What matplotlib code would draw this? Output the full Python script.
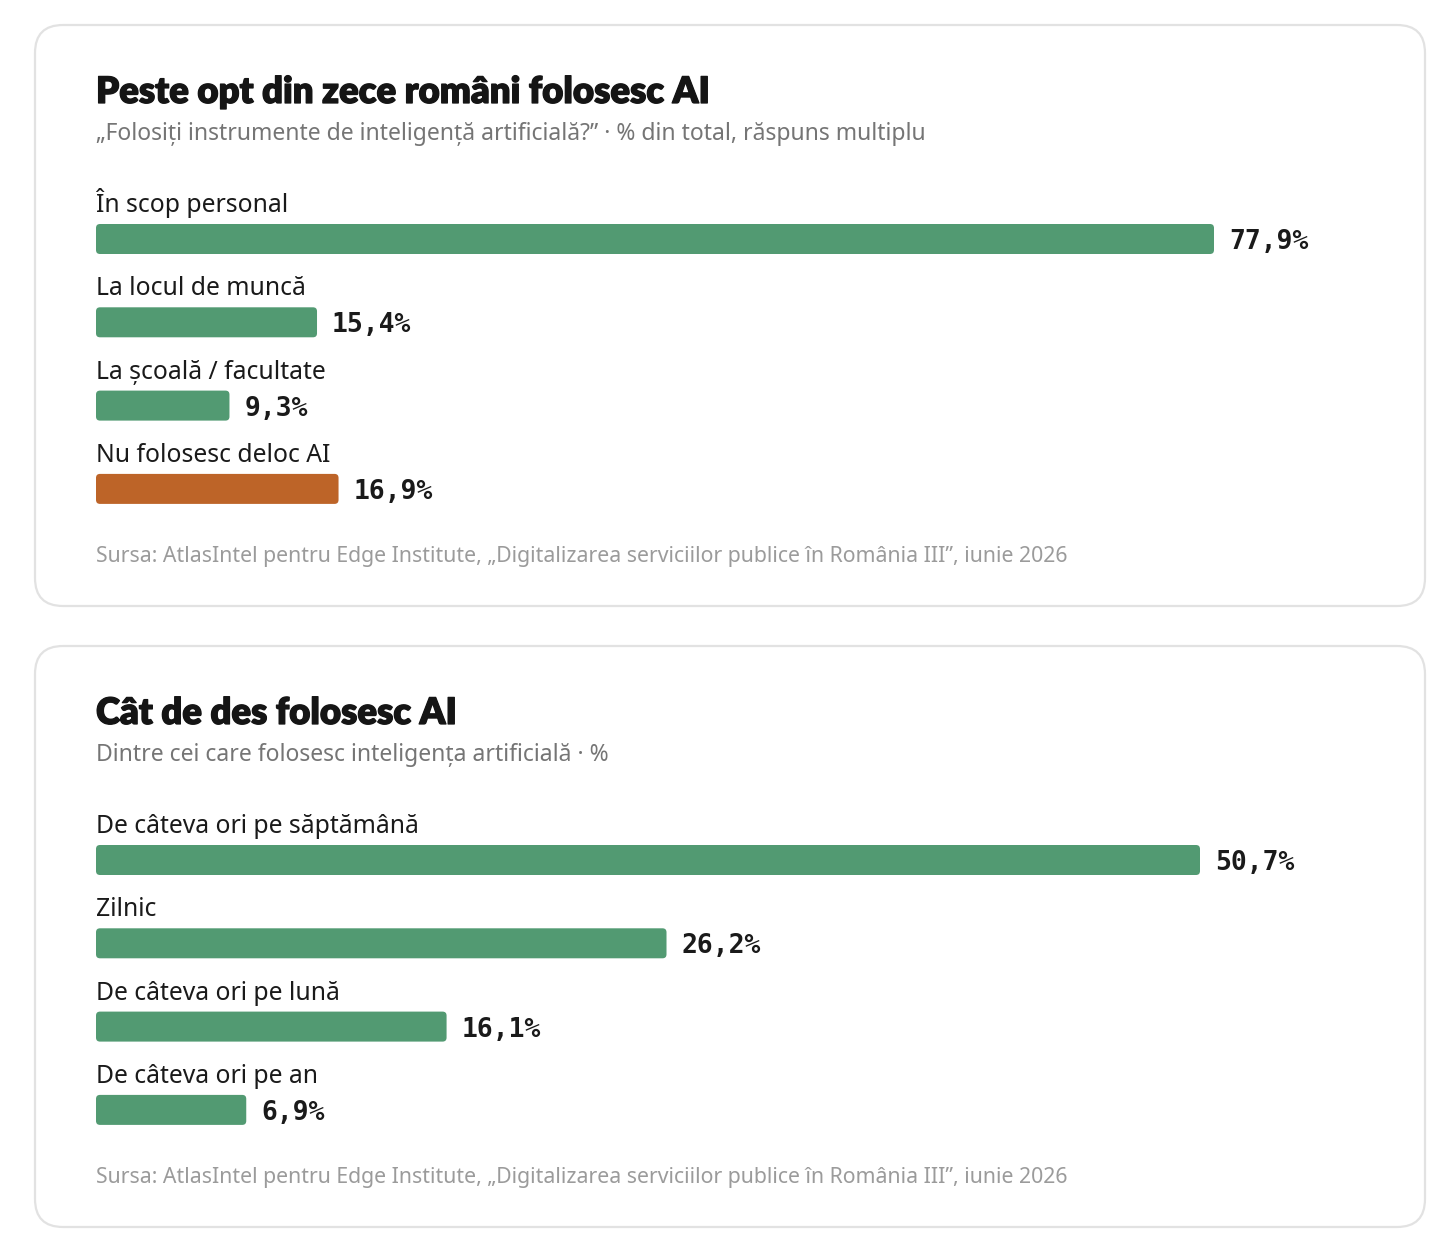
import matplotlib.pyplot as plt
import matplotlib.patheffects as pe
from matplotlib.patches import FancyBboxPatch

# data
use_labels = ['În scop personal', 'La locul de muncă', 'La școală / facultate', 'Nu folosesc deloc AI']
use_values = [77.9, 15.4, 9.3, 16.9]
use_colors = ['#529a72', '#529a72', '#529a72', '#bd6428']

freq_labels = ['De câteva ori pe săptămână', 'Zilnic', 'De câteva ori pe lună', 'De câteva ori pe an']
freq_values = [50.7, 26.2, 16.1, 6.9]
freq_colors = ['#529a72'] * 4

titles = ['Peste opt din zece români folosesc AI', 'Cât de des folosesc AI']
subtitles = ['„Folosiți instrumente de inteligență artificială?” · % din total, răspuns multiplu',
             'Dintre cei care folosesc inteligența artificială · %']
source = 'Sursa: AtlasIntel pentru Edge Institute, „Digitalizarea serviciilor publice în România III”, iunie 2026'

W, H = 1456, 1243
fig = plt.figure(figsize=(W / 100, H / 100), dpi=100)
fig.patch.set_facecolor('white')

bg = fig.add_axes([0, 0, 1, 1])
bg.set_xlim(0, W)
bg.set_ylim(H, 0)
bg.axis('off')

LABEL_FONT = 'Noto Sans'
TITLE_FONT = 'Lato'


def panel(top, labels, values, colors, title, subtitle, px_per_unit):
    # card
    card = FancyBboxPatch((35, top), 1390, 581, boxstyle='round,pad=0,rounding_size=28',
                          facecolor='white', edgecolor='#e2e2e2', lw=1.6)
    bg.add_patch(card)
    bg.text(96, top + 78, title, fontsize=26.3, fontweight='heavy', family=TITLE_FONT,
            color='#151515', va='baseline',
            path_effects=[pe.withStroke(linewidth=0.9, foreground='#151515')])
    bg.text(96, top + 115, subtitle, fontsize=16.5, family=LABEL_FONT,
            color='#757575', va='baseline')
    bg.text(96, top + 537, source, fontsize=15.3, family=LABEL_FONT,
            color='#9b9b9b', va='baseline')

    # bar axes
    step = 83.3
    first = top + 214
    ax_top, ax_bot = top + 150, top + 510
    x0, x1 = 96, 1365
    ax = fig.add_axes([x0 / W, 1 - ax_bot / H, (x1 - x0) / W, (ax_bot - ax_top) / H])
    ax.set_xlim(0, (x1 - x0) / px_per_unit)
    ax.set_ylim((ax_bot - first) / step, (ax_top - first) / step)
    ax.axis('off')

    bar_h = 30 / step
    ypos = list(range(len(values)))
    bars = ax.barh(ypos, values, height=bar_h, color=colors)
    aspect = (1 / step) / (1 / px_per_unit)
    for b in bars:
        x, y = b.get_x(), b.get_y()
        w, h = b.get_width(), b.get_height()
        rounded = FancyBboxPatch((x, y), w, h,
                                 boxstyle='round,pad=0,rounding_size=%f' % (4 / px_per_unit),
                                 mutation_aspect=aspect, facecolor=b.get_facecolor(),
                                 edgecolor='none')
        b.set_visible(False)
        ax.add_patch(rounded)

    for i, (lab, v) in enumerate(zip(labels, values)):
        ax.text(0, i - 27 / step, lab, fontsize=17.8, family=LABEL_FONT, color='#1a1a1a',
                va='baseline')
        ax.text(v + 15 / px_per_unit, i + 3 / step, f'{v:.1f}%'.replace('.', ','),
                fontsize=19, family='DejaVu Sans Mono', fontweight='bold', color='#1a1a1a',
                va='center')


panel(25, use_labels, use_values, use_colors, titles[0], subtitles[0], 1118 / 77.9)
panel(646, freq_labels, freq_values, freq_colors, titles[1], subtitles[1], 1104 / 50.7)

fig.savefig('out.png', dpi=100, facecolor='white')
